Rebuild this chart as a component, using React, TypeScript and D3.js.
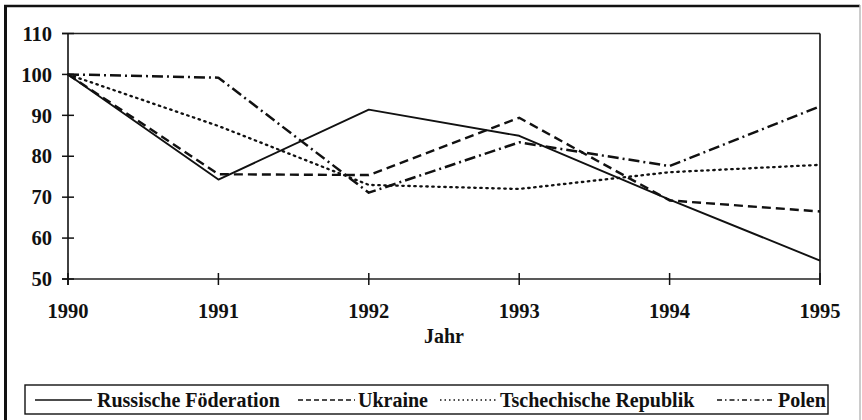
import React from "react";
import * as d3 from "d3";

const years = [1990, 1991, 1992, 1993, 1994, 1995];
const yTicks = [50, 60, 70, 80, 90, 100, 110];

const russland = [100, 74.3, 91.4, 85, 69.4, 54.5];
const ukraine = [100, 75.6, 75.4, 89.4, 69.2, 66.5];
const tschechien = [100, 87.4, 73, 72, 76.1, 77.9];
const polen = [100, 99.2, 71.1, 83.4, 77.6, 92.2];

const seriesNames = ["Russische Föderation", "Ukraine", "Tschechische Republik", "Polen"];

const FONT = "Liberation Serif, Times New Roman, Times, serif";
const txt: React.CSSProperties = { fontFamily: FONT, fontWeight: 700 };

export default function App() {
  const width = 862;
  const height = 420;
  const margin = { left: 68, right: 42, top: 33.5, bottom: 141 };

  const x = d3
    .scaleLinear()
    .domain([1990, 1995])
    .range([margin.left, width - margin.right]);
  const y = d3
    .scaleLinear()
    .domain([50, 110])
    .range([height - margin.bottom, margin.top]);

  const line = d3
    .line<number>()
    .x((_, i) => x(years[i]))
    .y((d) => y(d));

  const styles = [
    { data: russland, dash: "", w: 1.9, legendDash: "" },
    { data: ukraine, dash: "9 5", w: 2.4, legendDash: "5 3" },
    { data: tschechien, dash: "1.5 4.5", w: 2.3, legendDash: "1.5 3" },
    { data: polen, dash: "11 4 2 4", w: 2.5, legendDash: "5 3 1.5 3" },
  ];

  // legend sample line + label positions
  const legendItems = [
    { lx1: 35, lx2: 92, tx: 97 },
    { lx1: 298, lx2: 355, tx: 358 },
    { lx1: 440, lx2: 497, tx: 500 },
    { lx1: 717, lx2: 772, tx: 778 },
  ];

  const x0 = x(1990);
  const x1 = x(1995);
  const yTop = y(110);
  const yBot = y(50);

  return (
    <svg
      width={width}
      height={height}
      style={{ position: "absolute", left: 0, top: 0, background: "#fff", fontFamily: FONT }}
    >
      {/* outer frame */}
      <line x1={4} y1={6} x2={860} y2={6} stroke="#111" strokeWidth={2.6} />
      <line x1={5.5} y1={5} x2={5.5} y2={420} stroke="#111" strokeWidth={3} />
      <line x1={860} y1={5} x2={860} y2={420} stroke="#bbb" strokeWidth={1.5} />

      {/* plot frame */}
      <line x1={62} y1={yTop} x2={x1} y2={yTop} stroke="#222" strokeWidth={1.3} />
      <line x1={x1} y1={yTop} x2={x1} y2={yBot + 6} stroke="#111" strokeWidth={1.6} />
      <line x1={x0} y1={yTop} x2={x0} y2={yBot + 6} stroke="#111" strokeWidth={1.6} />
      <line x1={62} y1={yBot} x2={x1} y2={yBot} stroke="#222" strokeWidth={1.5} />

      {yTicks.map((t) => (
        <g key={t}>
          <line x1={62} x2={74} y1={y(t)} y2={y(t)} stroke="#111" strokeWidth={1.5} />
          <text x={52} y={y(t)} dy="0.35em" textAnchor="end" fontSize={20.5} fill="#111" style={txt}>
            {t}
          </text>
        </g>
      ))}

      {years.map((yr) => (
        <g key={yr}>
          <line x1={x(yr)} x2={x(yr)} y1={yBot - 6} y2={yBot + 6} stroke="#111" strokeWidth={1.5} />
          <text x={x(yr)} y={318} textAnchor="middle" fontSize={20.5} fill="#111" style={txt}>
            {yr}
          </text>
        </g>
      ))}

      <text x={(x0 + x1) / 2} y={343} textAnchor="middle" fontSize={20} fill="#111" style={txt}>
        Jahr
      </text>

      {styles.map((s, i) => (
        <path
          key={i}
          d={line(s.data) || ""}
          fill="none"
          stroke="#111"
          strokeWidth={s.w}
          strokeDasharray={s.dash}
          strokeLinecap={i === 2 ? "round" : "butt"}
          strokeLinejoin="round"
        />
      ))}

      {/* legend */}
      <rect x={25} y={385} width={803} height={29} fill="none" stroke="#111" strokeWidth={1.4} />
      {legendItems.map((it, i) => (
        <g key={i}>
          <line
            x1={it.lx1}
            x2={it.lx2}
            y1={400}
            y2={400}
            stroke="#111"
            strokeWidth={1.3}
            strokeDasharray={styles[i].legendDash}
          />
          <text x={it.tx} y={406.5} fontSize={20} fill="#111" style={txt}>
            {seriesNames[i]}
          </text>
        </g>
      ))}
    </svg>
  );
}
